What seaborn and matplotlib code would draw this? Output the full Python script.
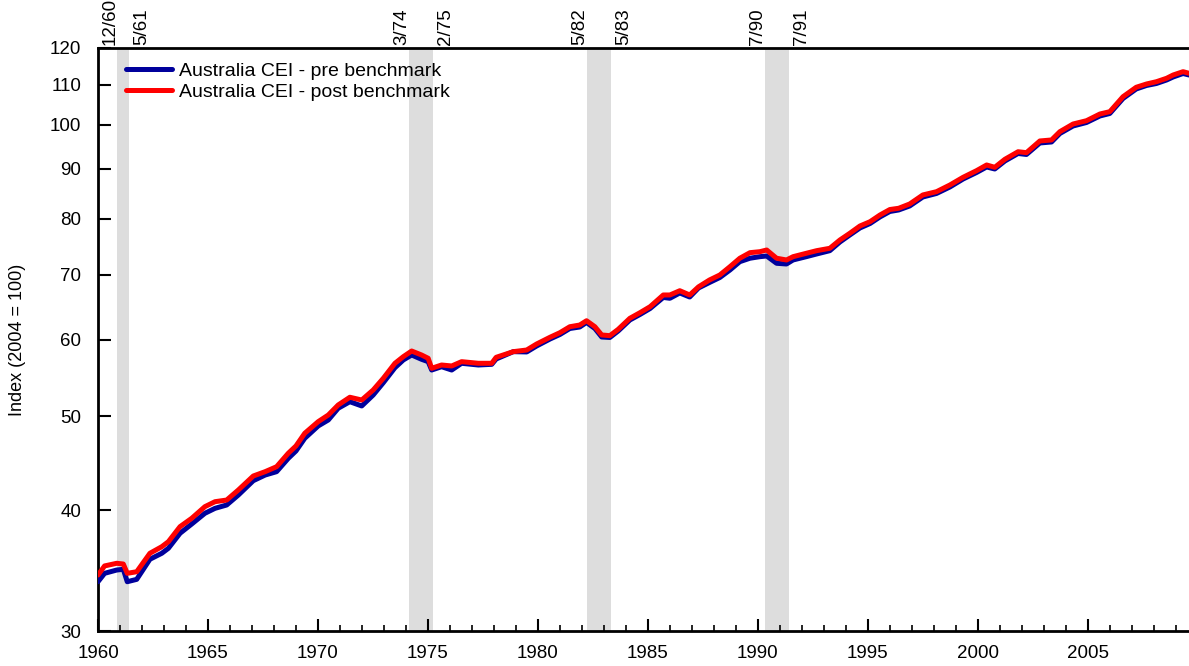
import matplotlib
matplotlib.use("Agg")
import matplotlib.pyplot as plt
import matplotlib.transforms as mtransforms
import seaborn as sns
import pandas as pd

# ---- data ----
years = [1960.0, 1960.3, 1960.85, 1961.15, 1961.33, 1961.76, 1962.36, 1962.9, 1963.2, 1963.73,
         1964.26, 1964.86, 1965.32, 1965.85, 1966.38, 1967.06, 1967.6, 1968.12, 1968.65, 1969.0,
         1969.4, 1970.01, 1970.47, 1970.92, 1971.45, 1971.99, 1972.51, 1972.97, 1973.5, 1973.88,
         1974.26, 1974.71, 1975.01, 1975.17, 1975.62, 1976.08, 1976.53, 1977.29, 1977.9, 1978.1,
         1978.88, 1979.49, 1979.94, 1980.55, 1981.0, 1981.45, 1981.9, 1982.21, 1982.59, 1982.9,
         1983.27, 1983.65, 1984.18, 1984.64, 1985.1, 1985.7, 1986.0, 1986.45, 1986.9, 1987.3,
         1987.8, 1988.27, 1988.73, 1989.18, 1989.64, 1990.09, 1990.4, 1990.85, 1991.3, 1991.6,
         1992.2, 1992.67, 1993.27, 1993.73, 1994.18, 1994.64, 1995.1, 1995.55, 1996.0, 1996.4,
         1996.9, 1997.5, 1998.12, 1998.73, 1999.33, 1999.94, 2000.4, 2000.77, 2001.23, 2001.83,
         2002.21, 2002.82, 2003.35, 2003.73, 2004.33, 2004.94, 2005.55, 2006.0, 2006.6, 2007.2,
         2007.67, 2008.12, 2008.58, 2008.88, 2009.33, 2009.6]

pre_benchmark = [33.73, 34.41, 34.68, 34.74, 33.73, 33.92, 35.58, 36.09, 36.52, 37.85,
                 38.69, 39.69, 40.16, 40.48, 41.45, 42.89, 43.47, 43.82, 45.23, 46.03,
                 47.44, 48.85, 49.55, 50.95, 51.75, 51.23, 52.58, 54.14, 56.11, 57.15,
                 57.83, 57.24, 56.92, 55.80, 56.24, 55.80, 56.70, 56.47, 56.56, 57.28,
                 58.29, 58.25, 59.08, 60.07, 60.72, 61.59, 61.81, 62.48, 61.59, 60.36,
                 60.29, 61.23, 62.85, 63.68, 64.59, 66.31, 66.18, 67.02, 66.38, 67.82,
                 68.71, 69.53, 70.78, 72.20, 72.79, 73.06, 73.18, 71.92, 71.80, 72.49,
                 73.06, 73.53, 74.11, 75.66, 76.93, 78.22, 79.06, 80.30, 81.35, 81.64,
                 82.42, 84.20, 84.91, 86.23, 87.88, 89.25, 90.43, 90.00, 91.73, 93.38,
                 93.16, 95.74, 95.97, 97.93, 99.69, 100.52, 102.09, 102.70, 106.43, 108.86,
                 109.77, 110.29, 111.21, 112.01, 112.94, 112.54]

post_benchmark = [34.27, 35.02, 35.24, 35.18, 34.41, 34.54, 36.09, 36.66, 37.10, 38.45,
                  39.22, 40.32, 40.80, 40.96, 41.95, 43.37, 43.82, 44.34, 45.78, 46.58,
                  48.01, 49.35, 50.14, 51.35, 52.30, 51.96, 53.21, 54.71, 56.70, 57.60,
                  58.38, 57.83, 57.38, 56.03, 56.47, 56.34, 56.92, 56.70, 56.70, 57.51,
                  58.29, 58.52, 59.36, 60.32, 60.98, 61.85, 62.10, 62.74, 61.85, 60.65,
                  60.55, 61.47, 63.10, 63.95, 64.87, 66.70, 66.70, 67.38, 66.70, 68.00,
                  69.12, 69.95, 71.34, 72.79, 73.76, 73.93, 74.23, 72.79, 72.49, 73.06,
                  73.65, 74.11, 74.53, 76.02, 77.24, 78.59, 79.40, 80.67, 81.73, 81.97,
                  82.81, 84.61, 85.27, 86.64, 88.24, 89.64, 90.86, 90.36, 92.10, 93.77,
                  93.56, 96.20, 96.43, 98.35, 100.16, 100.95, 102.57, 103.14, 106.88, 109.30,
                  110.16, 110.76, 111.66, 112.54, 113.43, 113.00]

series_names = ["Australia CEI - pre benchmark", "Australia CEI - post benchmark"]

recession_start = [1960.87, 1974.14, 1982.23, 1990.32]
recession_end = [1961.41, 1975.22, 1983.32, 1991.40]
recession_start_labels = ["12/60", "3/74", "5/82", "7/90"]
recession_end_labels = ["5/61", "2/75", "5/83", "7/91"]

y_ticks = [30, 40, 50, 60, 70, 80, 90, 100, 110, 120]
x_ticks = [1960, 1965, 1970, 1975, 1980, 1985, 1990, 1995, 2000, 2005]

# ---- build long table ----
df = pd.DataFrame({
    "year": years * 2,
    "value": pre_benchmark + post_benchmark,
    "series": [series_names[0]] * len(years) + [series_names[1]] * len(years),
})

sns.set_theme(style="white")
plt.rcParams["font.family"] = ["Liberation Sans", "DejaVu Sans"]
plt.rcParams["text.color"] = "black"

fig = plt.figure(figsize=(11.89, 6.66), dpi=100)
ax = fig.add_axes([98 / 1189, 1 - 631 / 666, 1 - 98 / 1189, (631 - 48) / 666])

# recession bands
for s, e in zip(recession_start, recession_end):
    ax.axvspan(s, e, color="#dddddd", lw=0, zorder=0)

sns.lineplot(data=df, x="year", y="value", hue="series", palette=["#00009c", "#ff0000"],
             hue_order=series_names, linewidth=3.6, estimator=None, sort=False, ax=ax,
             zorder=3)

ax.set_yscale("log")
ax.set_ylim(30, 120)
ax.set_xlim(1960, 2009.6)
ax.set_yticks(y_ticks)
ax.set_yticklabels([str(v) for v in y_ticks])
ax.yaxis.set_minor_locator(matplotlib.ticker.NullLocator())
ax.set_xticks(x_ticks)
ax.set_xticklabels([str(v) for v in x_ticks])
ax.set_xticks(list(range(1961, 2010)), minor=True)

ax.tick_params(axis="y", which="major", direction="in", length=9, width=1.5,
               color="black", labelsize=13.5, pad=12, left=True, labelcolor="black")
ax.tick_params(axis="x", which="major", direction="in", length=9, width=1.5,
               color="black", labelsize=13.5, pad=10, bottom=True, labelcolor="black")
ax.tick_params(axis="x", which="minor", direction="in", length=4.5, width=1.2,
               color="black", bottom=True)

for side in ["left", "bottom", "top"]:
    ax.spines[side].set_color("black")
    ax.spines[side].set_linewidth(2)
ax.spines["right"].set_visible(False)

ax.set_xlabel("")
ax.set_ylabel("Index (2004 = 100)", fontsize=13, labelpad=17, color="black")

# recession labels above the plot
trans = mtransforms.blended_transform_factory(ax.transData, ax.transAxes)
for s, e, ls, le in zip(recession_start, recession_end, recession_start_labels, recession_end_labels):
    ax.text(s + 0.05, 1.005, ls, transform=trans, rotation=90, ha="right", va="bottom",
            fontsize=13.5, color="black")
    ax.text(e + 0.2, 1.005, le, transform=trans, rotation=90, ha="left", va="bottom",
            fontsize=13.5, color="black")

leg = ax.legend(loc="upper left", bbox_to_anchor=(0.012, 1.0), frameon=False,
                fontsize=14, handlelength=2.4, handletextpad=0.35, labelspacing=0.15,
                borderaxespad=0.35)
for line in leg.get_lines():
    line.set_linewidth(3.6)
for t in leg.get_texts():
    t.set_color("black")

fig.savefig("out.png", dpi=100)
